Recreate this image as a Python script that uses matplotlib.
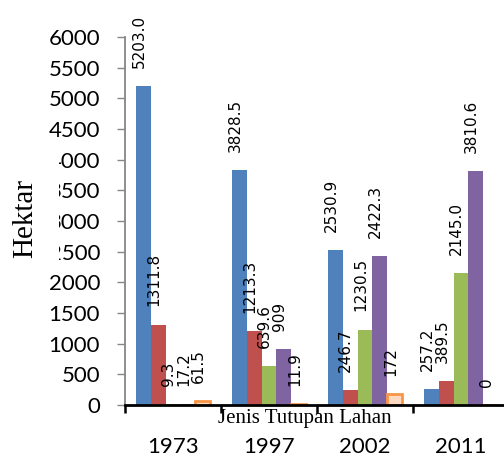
import matplotlib
matplotlib.use("Agg")
import matplotlib.pyplot as plt
from matplotlib.patches import Rectangle
import numpy as np

years = ["1973", "1997", "2002", "2011"]
blue_vals = [5203.0, 3828.5, 2530.9, 257.2]
red_vals = [1311.8, 1213.3, 246.7, 389.5]
green_vals = [9.3, 639.6, 1230.5, 2145.0]
purple_vals = [17.2, 909, 2422.3, 3810.6]
orange_vals = [61.5, 11.9, 172, 0]
blue_labels = ["5203.0", "3828.5", "2530.9", "257.2"]
red_labels = ["1311.8", "1213.3", "246.7", "389.5"]
green_labels = ["9.3", "639.6", "1230.5", "2145.0"]
purple_labels = ["17.2", "909", "2422.3", "3810.6"]
orange_labels = ["61.5", "11.9", "172", "0"]
y_ticks = [0, 500, 1000, 1500, 2000, 2500, 3000, 3500, 4000, 4500, 5000, 5500, 6000]

series = [
    (blue_vals, blue_labels, "#4F81BD", None, 0),
    (red_vals, red_labels, "#C0504D", None, 0),
    (green_vals, green_labels, "#9BBB59", None, 0),
    (purple_vals, purple_labels, "#8064A2", None, 0),
    (orange_vals, orange_labels, "#FCD9C0", "#F79646", 2.0),
]

W, H = 504, 463
fig = plt.figure(figsize=(W / 100, H / 100), dpi=100)
ax = fig.add_axes([125 / W, (H - 405) / H, 384 / W, 368 / H])

x = np.arange(len(years))
bw = 0.156
n = len(series)
for i, (vals, labels, fc, ec, lw) in enumerate(series):
    xs = x + (i - (n - 1) / 2) * bw
    ax.bar(xs, vals, width=bw, color=fc, edgecolor=ec if ec else fc,
           linewidth=lw, zorder=2)
    for xi, v, lab in zip(xs, vals, labels):
        ax.annotate(lab, (xi, v), xytext=(-3, 13), textcoords="offset points",
                    rotation=90, ha="center", va="bottom", fontsize=11,
                    family="DejaVu Sans", annotation_clip=False)

ax.set_xlim(-0.5, 3.5)
ax.set_ylim(0, 6000)
ax.set_yticks(y_ticks)
ax.set_yticklabels([str(t) for t in y_ticks], family="Lato", fontsize=16)
ax.tick_params(axis="y", direction="out", length=6, width=1, color="#868686", pad=12)

ax.set_xticks([-0.5, 0.5, 1.5, 2.5, 3.5])
ax.set_xticklabels([])
ax.tick_params(axis="x", which="major", direction="out", length=6, width=1.8, color="black")
ax.set_xticks(x, minor=True)
ax.set_xticklabels(years, minor=True, family="Lato", fontsize=16)
ax.tick_params(axis="x", which="minor", length=0, pad=23)

for s in ["top", "right"]:
    ax.spines[s].set_visible(False)
ax.spines["left"].set_color("#868686")
ax.spines["left"].set_linewidth(1.3)
ax.spines["bottom"].set_color("black")
ax.spines["bottom"].set_linewidth(2)
ax.spines["bottom"].set_zorder(3)

# y-axis title sits on a white panel over the tick labels
fig.patches.append(Rectangle((0, (H - 266) / H), 59 / W, 113 / H,
                             transform=fig.transFigure, facecolor="white",
                             edgecolor="none", zorder=5))
fig.text(25 / W, (H - 218) / H, "Hektar", rotation=90, ha="center", va="center",
         family="Liberation Serif", fontsize=21, zorder=6)
fig.text(305 / W, (H - 418) / H, "Jenis Tutupan Lahan", ha="center", va="center",
         family="Liberation Serif", fontsize=15, zorder=6)

fig.savefig("out.png", dpi=100)
